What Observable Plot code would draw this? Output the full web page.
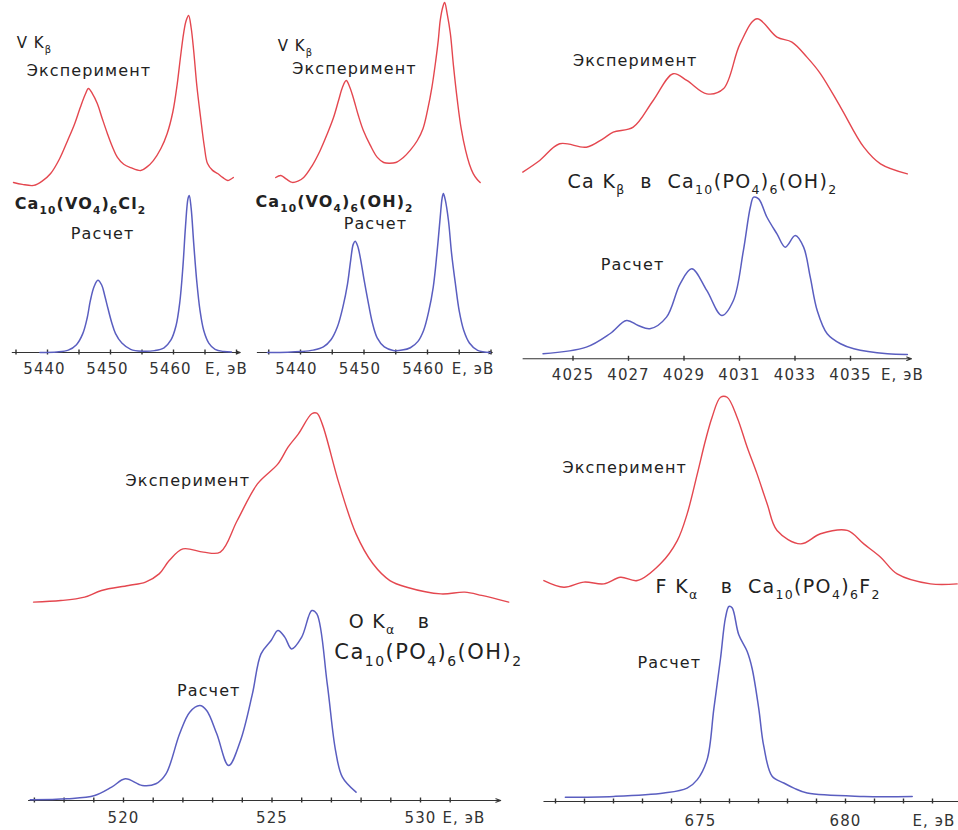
<!DOCTYPE html>
<html><head><meta charset="utf-8">
<script src="https://cdn.jsdelivr.net/npm/d3@7"></script>
<script src="https://cdn.jsdelivr.net/npm/@observablehq/plot@0.6"></script>
<style>
html,body{margin:0;padding:0;background:#fff;overflow:hidden}
#fig{position:relative;width:958px;height:830px}
#fig svg{position:absolute;left:0;top:0;background:transparent;overflow:visible}
#fig text{white-space:pre;letter-spacing:0.07em}
</style></head><body><div id="fig"></div>
<script>
// ---------- data: [energy eV, intensity (a.u., calc peak = 100)] ----------
const vClCalc = [[5438.8,0],[5441.5,0.3],[5443.3,1.5],[5444.6,5],[5445.6,12],[5446.3,22],[5446.8,33],[5447.4,42],[5448.0,46],[5448.6,43],[5449.1,36],[5449.6,28],[5450.2,19],[5450.8,12],[5451.8,6],[5453.2,2],[5455.0,0.8],[5457.0,1.2],[5458.5,3],[5459.6,8],[5460.4,17],[5461.0,32],[5461.5,55],[5461.9,80],[5462.3,98],[5462.5,100],[5462.8,92],[5463.2,70],[5463.7,45],[5464.2,27],[5464.8,14],[5465.6,6],[5466.6,2],[5468,0.6],[5469.2,0.3]];
const vClExp = [[5434.6,4.6],[5436.0,3.5],[5437.8,2.9],[5439.2,5.5],[5440.5,9.7],[5441.9,18],[5443.2,28.6],[5444.3,38],[5445.2,47.4],[5446.0,55],[5446.5,58.3],[5447.1,55.5],[5447.9,49.7],[5448.7,41],[5449.5,32.6],[5450.3,25],[5451.1,18.9],[5452.1,15],[5453.2,13.1],[5454.8,11.4],[5455.8,13.5],[5456.8,17.1],[5458.0,24],[5459.0,32.6],[5459.9,45],[5460.6,61.1],[5461.1,76],[5461.6,89.7],[5462.0,97],[5462.4,100],[5462.8,93],[5463.2,80],[5463.7,60],[5464.3,41.7],[5464.9,25],[5465.4,15.4],[5466.2,11.5],[5467.0,9.7],[5467.8,7.5],[5468.6,5.7],[5469.5,7.4]];
const vOHCalc = [[5434.8,0],[5438,0.2],[5440,0.6],[5442,1.5],[5443.6,3.5],[5444.8,8],[5445.8,16],[5446.7,29],[5447.4,43],[5447.9,58],[5448.3,68],[5448.6,70],[5449.0,67],[5449.4,60],[5450.0,46],[5450.6,33],[5451.3,19],[5452.1,9],[5453.2,3.5],[5454.6,1.3],[5456,1.5],[5457.3,3],[5458.5,7],[5459.4,14],[5460.2,26],[5460.9,41],[5461.5,63],[5462.0,85],[5462.3,97],[5462.5,100],[5462.8,96],[5463.3,83],[5463.8,62],[5464.4,43],[5465.0,26],[5465.7,14],[5466.6,6],[5467.9,1.3],[5469.9,0]];
const vOHExp = [[5436.1,6.9],[5436.9,8],[5437.8,6],[5438.7,4.3],[5439.6,5],[5440.5,6.9],[5441.8,13],[5443.1,21.3],[5444.2,30],[5445.2,38.8],[5446.0,48],[5446.6,54.8],[5447.2,58.5],[5447.7,55.5],[5448.3,49.5],[5449.1,40],[5449.9,31.9],[5451.0,24],[5452.1,17.6],[5453.1,14.9],[5454.0,14.5],[5455.0,14.9],[5456.2,17.6],[5457.3,21.5],[5458.4,26.6],[5459.3,33],[5460.0,42.6],[5460.7,55],[5461.3,69.1],[5461.7,80],[5462.0,90.4],[5462.4,97.5],[5462.7,100],[5463.1,94],[5463.6,83.5],[5464.1,66],[5464.7,47.9],[5465.3,33],[5466.0,21.3],[5466.6,14],[5467.2,9],[5467.8,6],[5468.3,4.3]];
const caCalc = [[4023.92,3.1],[4025.48,7.2],[4026.33,15.5],[4026.93,23.7],[4027.35,20.6],[4027.77,18.6],[4028.37,25.8],[4028.86,46.4],[4029.28,55.7],[4029.82,42.3],[4030.36,26.8],[4030.78,36.1],[4031.14,67],[4031.39,93.8],[4031.51,100],[4031.69,99],[4031.99,87.6],[4032.35,77.3],[4032.65,69.1],[4033.01,76.3],[4033.31,69.1],[4033.55,50.5],[4033.80,29.9],[4034.16,15.5],[4034.64,9.3],[4035.12,6.2],[4036.33,3.1],[4037.05,2.7]];
const caExp = [[4023.19,5.2],[4023.80,12.4],[4024.52,22.7],[4025.48,20.6],[4026.08,25.8],[4026.45,29.9],[4027.17,33],[4027.89,49.5],[4028.61,66],[4029.10,61.9],[4029.82,53.6],[4030.42,56.7],[4031.02,84.5],[4031.63,100],[4032.35,88.7],[4032.89,85.6],[4033.43,76.3],[4033.92,66],[4034.64,45.4],[4035.48,20.6],[4036.08,10.3],[4037.05,4.1]];
const oCalc = [[516.86,0.4],[518.11,0.9],[519.03,2.6],[519.6,7.0],[520.06,11.4],[520.63,7.9],[521.09,8.8],[521.43,14],[521.89,35.1],[522.23,46.5],[522.57,50],[522.8,47.4],[523.14,35.1],[523.54,18.4],[523.94,31.6],[524.34,56.1],[524.63,77.2],[524.97,84.2],[525.2,89.5],[525.43,86],[525.66,79.8],[526.0,86],[526.34,100],[526.51,98.2],[526.86,61.4],[527.14,26.3],[527.37,12.3],[527.83,4.4]];
const oExp = [[516.97,0.9],[517.89,1.7],[518.69,3.5],[519.26,7],[520.17,9.6],[520.74,11.4],[521.2,15.7],[521.54,22.7],[522.0,28.8],[522.69,27.1],[523.26,27.1],[523.83,43.7],[524.51,62.9],[525.2,73.4],[525.54,82.2],[525.89,89.2],[526.34,99.7],[526.51,100],[526.69,94.4],[527.26,62.9],[527.83,36.7],[528.4,21],[528.97,12.2],[529.54,8.7],[530.69,5.2],[531.49,6.1],[532.06,4.4],[532.97,0.9]];
const fCalc = [[670.34,2.2],[672.01,2.6],[673.74,4.3],[674.54,6.8],[674.89,11.1],[675.23,21.4],[675.46,47],[675.69,72.6],[675.86,93.2],[675.98,99],[676.09,98.3],[676.32,84.6],[676.61,76.1],[676.78,67.5],[677.01,47],[677.18,28.2],[677.47,12.8],[677.87,9.4],[678.22,6.8],[678.68,4.3],[680.63,2.6],[682.3,2.6]];
const fExp = [[669.6,5.1],[670.29,1.7],[670.98,4.3],[671.67,3.4],[672.24,6.8],[672.82,5.1],[673.62,13.7],[674.2,25.6],[674.54,39.3],[674.89,59.8],[675.17,76.9],[675.4,88.9],[675.69,99.1],[675.92,99.1],[676.26,88.9],[676.61,73.5],[676.95,59.8],[677.3,44.4],[677.64,30.8],[678.45,23.9],[679.14,29.1],[680.06,30.8],[680.63,23.9],[681.21,17.1],[681.78,8.5],[682.93,3.4],[683.85,3.4]];

// tick positions and tick labels
const vTicks = [5435,5440,5445,5450,5455,5460,5465,5470];
const vLabels = [5440,5450,5460];
const caTicks = [4025,4027,4029,4031,4033,4035];
const caLabels = [4025,4027,4029,4031,4033,4035];
const oTicks = [517,518,519,520,521,522,523,524,525,526,527,528,529,530,531];
const oLabels = [520,525,530];
const fTicks = [670,671,672,673,674,675,676,677,678,679,680,681,682,683];
const fLabels = [675,680];
const unitLabel = "E, эВ";

// ---------- styles ----------
const RED = "#e4474f", BLUE = "#5a5ec0", INK = "#222", AXIS = "#333";
const FONT = "DejaVu Sans, Verdana, sans-serif";

function panel(c) {
  const ppu = (c.axisY - c.peakY) / 100;           // px per calc unit
  const off = (c.axisY - c.expBase) / ppu;          // vertical shift of experimental curve
  const k = (c.expBase - c.expPeak) / (100 * ppu);  // its scale
  const t = 2.5 / ppu;
  const marks = [
    Plot.arrow([0], {x1: c.axis[0], x2: c.axis[1], y1: 0, y2: 0, stroke: AXIS, strokeWidth: 1.1, headLength: c.head, headAngle: 40}),
    Plot.ruleX(c.ticks, {x: d => d, y1: -t, y2: t, stroke: AXIS, strokeWidth: 1.4}),
    Plot.text(c.labels, {x: d => d, y: 0, dx: c.labelDx || 0, dy: c.labelDy, text: d => String(d), fontSize: 15, fontFamily: FONT, fill: "#333"}),
    Plot.text([unitLabel], {x: c.unitX, y: 0, dy: c.labelDy, text: d => d, textAnchor: "start", fontSize: 15, fontFamily: FONT, fill: "#333"}),
    Plot.line(c.exp, {x: d => d[0], y: d => off + k * d[1], stroke: RED, strokeWidth: 1.4, curve: "catmull-rom"}),
    Plot.line(c.calc, {x: d => d[0], y: d => d[1], stroke: BLUE, strokeWidth: 1.5, curve: "catmull-rom"}),
    ...c.notes.map(n => Plot.text([n], {x: "x", y: "y", text: "t", textAnchor: "start", fontSize: n.s, fontWeight: n.b ? "bold" : "normal", fontFamily: FONT, fill: INK}))
  ];
  return Plot.plot({
    width: 958, height: 830, margin: 0,
    x: {domain: c.xDomain, range: c.xRange, axis: null},
    y: {domain: [0, 100], range: [c.axisY, c.peakY], axis: null},
    style: {background: "transparent", overflow: "visible", position: "absolute", left: "0px", top: "0px"},
    marks
  });
}

const panels = [
  {xDomain: [5440, 5460], xRange: [47, 173], axisY: 352, peakY: 195, expBase: 190, expPeak: 15,
   axis: [5434.4, 5470.6], head: 5, ticks: vTicks, labels: vLabels, labelDx: -3, unitX: 5465.0, labelDy: 17,
   exp: vClExp, calc: vClCalc,
   notes: [{t: "V K_{β}", x: 5435.1, y: 196.8, s: 15}, {t: "Эксперимент", x: 5436.7, y: 179.6, s: 16},
           {t: "Ca_{10}(VO_{4})_{6}Cl_{2}", x: 5434.8, y: 94.9, s: 16, b: true}, {t: "Расчет", x: 5443.7, y: 75.8, s: 16}]},
  {xDomain: [5440, 5460], xRange: [300, 427], axisY: 352, peakY: 193, expBase: 190, expPeak: 2,
   axis: [5433.2, 5470.2], head: 5, ticks: vTicks, labels: vLabels, labelDx: -4, unitX: 5463.8, labelDy: 17,
   exp: vOHExp, calc: vOHCalc,
   notes: [{t: "V K_{β}", x: 5436.4, y: 192.5, s: 15}, {t: "Эксперимент", x: 5438.7, y: 178.6, s: 16},
           {t: "Ca_{10}(VO_{4})_{6}(OH)_{2}", x: 5432.9, y: 95, s: 16, b: true}, {t: "Расчет", x: 5446.8, y: 81.1, s: 16}]},
  {xDomain: [4025, 4035], xRange: [572.5, 850], axisY: 358.3, peakY: 196.7, expBase: 180, expPeak: 18.3,
   axis: [4023.2, 4037.2], head: 7, ticks: caTicks, labels: caLabels, unitX: 4036.1, labelDy: 16,
   exp: caExp, calc: caCalc,
   notes: [{t: "Эксперимент", x: 4025.0, y: 184.6, s: 16}, {t: "Ca K_{β}  в  Ca_{10}(PO_{4})_{6}(OH)_{2}", x: 4024.8, y: 109.7, s: 19},
           {t: "Расчет", x: 4026.0, y: 58.4, s: 16}]},
  {xDomain: [520, 530], xRange: [123, 420], axisY: 800, peakY: 610, expBase: 603.3, expPeak: 412.7,
   axis: [516.8, 532.7], head: 7, ticks: oTicks, labels: oLabels, unitX: 530.74, labelDy: 18,
   exp: oExp, calc: oCalc,
   notes: [{t: "Эксперимент", x: 520.07, y: 168.4, s: 16}, {t: "O K_{α}   в", x: 527.58, y: 94.2, s: 19},
           {t: "Ca_{10}(PO_{4})_{6}(OH)_{2}", x: 527.1, y: 77.9, s: 21}, {t: "Расчет", x: 521.8, y: 57.9, s: 16}]},
  {xDomain: [675, 680], xRange: [700, 845], axisY: 801, peakY: 604, expBase: 590, expPeak: 395,
   axis: [669.6, 684.5], head: 7, ticks: fTicks, labels: fLabels, unitX: 682.31, labelDy: 20,
   exp: fExp, calc: fCalc,
   notes: [{t: "Эксперимент", x: 670.24, y: 169.5, s: 16}, {t: "F K_{α}   в  Ca_{10}(PO_{4})_{6}F_{2}", x: 673.45, y: 109.1, s: 19},
           {t: "Расчет", x: 672.83, y: 70.6, s: 16}]}
];

const fig = document.getElementById("fig");
for (const p of panels) fig.appendChild(panel(p));

// turn _{...} markup into real subscript tspans
const NS = "http://www.w3.org/2000/svg";
fig.querySelectorAll("text").forEach(el => {
  const s = el.textContent;
  if (!s.includes("_{")) return;
  const fs = parseFloat(getComputedStyle(el).fontSize) || 14;
  const parts = []; const re = /_\{([^}]*)\}/g; let last = 0, m;
  while ((m = re.exec(s))) { if (m.index > last) parts.push([s.slice(last, m.index), false]); parts.push([m[1], true]); last = re.lastIndex; }
  if (last < s.length) parts.push([s.slice(last), false]);
  while (el.firstChild) el.removeChild(el.firstChild);
  let cur = 0; const shift = fs * 0.32;
  for (const [txt, sub] of parts) {
    const ts = document.createElementNS(NS, "tspan");
    const target = sub ? shift : 0;
    if (target !== cur) ts.setAttribute("dy", (target - cur).toFixed(2));
    cur = target;
    if (sub) ts.setAttribute("font-size", (fs * 0.66).toFixed(1));
    ts.textContent = txt;
    el.appendChild(ts);
  }
});
</script></body></html>
